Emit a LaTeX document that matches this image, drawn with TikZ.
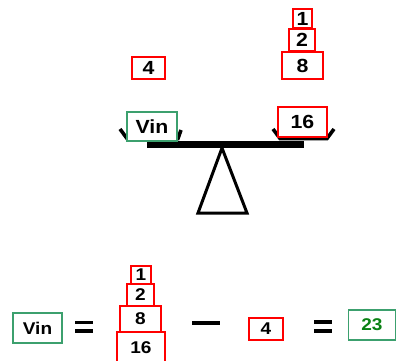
\documentclass[tikz,border=0pt]{standalone}
\usepackage{fontspec}
\setmainfont[FakeStretch=1.12]{Liberation Sans}
\definecolor{boxgreen}{RGB}{60,160,110}
\definecolor{txtgreen}{RGB}{10,130,20}
\begin{document}
\begin{tikzpicture}[x=1pt,y=-1pt,
  wt/.style={draw=red,line width=1.6pt,fill=white,inner sep=0pt,font=\fontsize{19}{19}\selectfont\bfseries},
  gb/.style={draw=boxgreen,line width=1.6pt,fill=white,inner sep=0pt,font=\fontsize{19}{19}\selectfont\bfseries},
  sm/.style={font=\fontsize{17}{17}\selectfont\bfseries},
  sz/.style 2 args={minimum width=#1pt,minimum height=#2pt},
  heavy/.style={line width=3pt},
  tray/.style={line width=3.6pt},
  eqline/.style={line width=3.4pt}]
\useasboundingbox (0,0) rectangle (397,361);
% trays
\draw[tray,line join=miter] (120,129) -- (127,138.5) -- (178,138.5) -- (181,130);
\draw[tray,line join=miter] (273,129) -- (280,138.5) -- (327,138.5) -- (334,129);
% beam
\fill (147,141) rectangle (304,148);
% fulcrum
\draw[heavy,line join=miter] (222,148) -- (198,213) -- (247,213) -- cycle;
% top boxes
\node[gb,sz={50}{29}] (tvin) at (152,126.5) {Vin};
\node[wt,sz={49}{30}] (t16) at (302.5,122) {16};
\node[wt,sz={33}{22}] (t4) at (148.5,68) {4};
\node[wt,sz={41}{27}] (t8) at (302.5,65.5) {8};
\node[wt,sz={26}{22}] (t2) at (302,40) {2};
\node[wt,sz={19}{19}] (t1) at (302.5,18.5) {1};
% bottom equation
\node[gb,sm,sz={49}{30}] (bvin) at (37.5,328) {Vin};
\coordinate (e1a) at (75,322.5); \coordinate (e1b) at (93,322.5);
\coordinate (e1c) at (75,331); \coordinate (e1d) at (93,331);
\draw[eqline] (e1a) -- (e1b); \draw[eqline] (e1c) -- (e1d);
\node[wt,sm,sz={48}{31}] (b16) at (141,347.5) {16};
\node[wt,sm,sz={41}{26}] (b8) at (140.5,319) {8};
\node[wt,sm,sz={27}{22}] (b2) at (140.5,295) {2};
\node[wt,sm,sz={20}{18}] (b1) at (141,275) {1};
\coordinate (ma) at (192,323); \coordinate (mb) at (220,323);
\draw[line width=4pt] (ma) -- (mb);
\node[wt,sm,sz={34}{22}] (b4) at (266,329) {4};
\coordinate (e2a) at (314,322); \coordinate (e2b) at (332,322);
\coordinate (e2c) at (314,331); \coordinate (e2d) at (332,331);
\draw[eqline] (e2a) -- (e2b); \draw[eqline] (e2c) -- (e2d);
\node[gb,sm,sz={47}{30},text=txtgreen] (b23) at (372,325) {23};
\end{tikzpicture}
\end{document}
